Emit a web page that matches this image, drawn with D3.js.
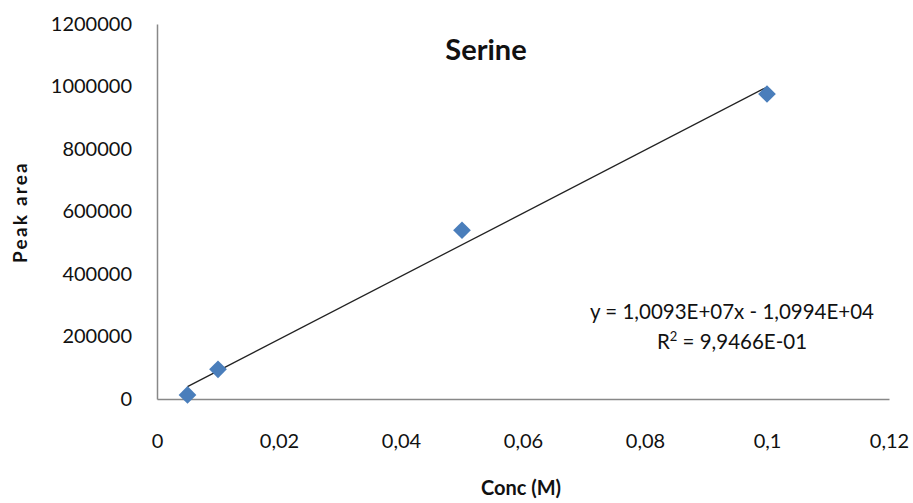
<!DOCTYPE html>
<html>
<head>
<meta charset="utf-8">
<script src="https://cdn.jsdelivr.net/npm/d3@7"></script>
<style>
  body { margin: 0; background: #fff; }
  text { font-family: Lato, "Open Sans", sans-serif; fill: #111; }
</style>
</head>
<body>
<div id="chart"></div>
<script>
const conc = [0.005, 0.01, 0.05, 0.1];
const peakArea = [13000, 95000, 540000, 976000];
const xTicks = [0, 0.02, 0.04, 0.06, 0.08, 0.1, 0.12];
const yTicks = [0, 200000, 400000, 600000, 800000, 1000000, 1200000];
const slope = 1.0093e7;
const intercept = -1.0994e4;

const width = 913;
const height = 503;

const svg = d3.select('#chart')
    .append('svg')
    .attr('width', width)
    .attr('height', height);

const x = d3.scaleLinear().domain([0, 0.12]).range([157, 889]);
const y = d3.scaleLinear().domain([0, 1200000]).range([399, 24]);

const fmtX = d => d === 0 ? '0' : String(+d.toFixed(2)).replace('.', ',');

// axes
const xAxis = svg.append('g')
    .attr('transform', `translate(0,${y(0)})`)
    .call(d3.axisBottom(x).tickValues(xTicks).tickFormat(fmtX).tickSize(0).tickPadding(35));
const yAxis = svg.append('g')
    .attr('transform', `translate(${x(0)},0)`)
    .call(d3.axisLeft(y).tickValues(yTicks).tickFormat(d3.format('d')).tickSize(0).tickPadding(25));

[xAxis, yAxis].forEach(a => {
    a.select('.domain').attr('stroke', '#888').attr('stroke-width', 1.5);
    a.selectAll('text').attr('font-size', 20).attr('fill', '#111')
        .style('font-family', 'Lato, "Open Sans", sans-serif');
});
yAxis.selectAll('text').attr('dy', '0.3em');

// trendline over data range
const x0 = d3.min(conc), x1 = d3.max(conc);
svg.append('line')
    .attr('x1', x(x0)).attr('y1', y(slope * x0 + intercept))
    .attr('x2', x(x1)).attr('y2', y(slope * x1 + intercept))
    .attr('stroke', '#222')
    .attr('stroke-width', 1.3);

// diamonds
svg.append('g').selectAll('path')
    .data(conc.map((c, i) => [c, peakArea[i]]))
    .enter()
    .append('path')
    .attr('d', d3.symbol().type(d3.symbolDiamond2).size(200))
    .attr('transform', d => `translate(${x(d[0])},${y(d[1])})`)
    .attr('fill', '#4a7ebb');

// titles
svg.append('text')
    .attr('x', 486).attr('y', 60)
    .attr('text-anchor', 'middle')
    .attr('font-size', 29).attr('font-weight', 'bold')
    .text('Serine');

svg.append('text')
    .attr('transform', 'translate(27,212) rotate(-90)')
    .attr('text-anchor', 'middle')
    .attr('font-size', 19).attr('font-weight', 'bold')
    .attr('letter-spacing', 2.2)
    .text('Peak area');

svg.append('text')
    .attr('x', 521).attr('y', 495)
    .attr('text-anchor', 'middle')
    .attr('font-size', 20).attr('font-weight', 'bold')
    .text('Conc (M)');

// regression label
const eq = svg.append('g').attr('font-size', 20.5);
eq.append('text')
    .attr('x', 732).attr('y', 319)
    .attr('text-anchor', 'middle')
    .text('y = 1,0093E+07x - 1,0994E+04');
const r2 = eq.append('text')
    .attr('x', 732).attr('y', 349)
    .attr('text-anchor', 'middle');
r2.append('tspan').text('R');
r2.append('tspan').attr('dy', -8).attr('font-size', 13).text('2');
r2.append('tspan').attr('dy', 8).text(' = 9,9466E-01');
</script>
</body>
</html>
